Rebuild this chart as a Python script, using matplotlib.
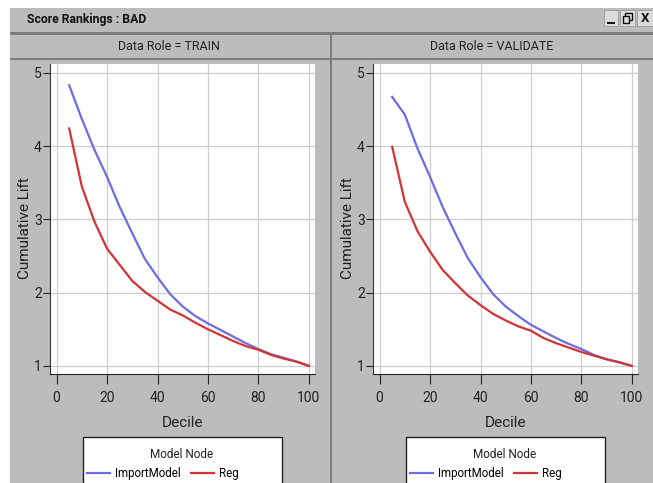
# score_rankings.py
#
# Two panel cumulative lift chart inside a grey application window.

import matplotlib
matplotlib.use('Agg')
import matplotlib.pyplot as plt
from matplotlib.patches import Rectangle

# ── DATA ───────────────────────────────────────────────────────────────────────
deciles = [5, 10, 15, 20, 25, 30, 35, 40, 45, 50, 55, 60, 65, 70, 75, 80, 85, 90, 95, 100]

train_import = [4.83, 4.37, 3.95, 3.58, 3.17, 2.81, 2.46, 2.21, 1.98, 1.81,
                1.68, 1.58, 1.49, 1.40, 1.31, 1.23, 1.16, 1.11, 1.06, 1.00]
train_reg    = [4.24, 3.45, 2.97, 2.60, 2.38, 2.16, 2.01, 1.89, 1.77, 1.69,
                1.59, 1.50, 1.42, 1.34, 1.27, 1.22, 1.15, 1.10, 1.06, 1.00]

valid_import = [4.67, 4.43, 3.97, 3.58, 3.17, 2.81, 2.47, 2.21, 1.98, 1.81,
                1.68, 1.56, 1.47, 1.38, 1.30, 1.23, 1.15, 1.09, 1.05, 1.00]
valid_reg    = [3.99, 3.24, 2.84, 2.56, 2.31, 2.13, 1.96, 1.83, 1.71, 1.62,
                1.54, 1.48, 1.38, 1.31, 1.25, 1.19, 1.14, 1.09, 1.05, 1.00]

window_title = 'Score Rankings : BAD'
panel_titles = ['Data Role = TRAIN', 'Data Role = VALIDATE']
x_ticks = [0, 20, 40, 60, 80, 100]
y_ticks = [1, 2, 3, 4, 5]

# ── STYLE ──────────────────────────────────────────────────────────────────────
W, H = 653, 483
GREY = '#bcbcbc'
DARK = '#7c7c7c'
BLUE = '#6c6ce4'
RED  = '#d23434'
TEXT = '#222222'

plt.rcParams['font.family'] = ['Roboto', 'Liberation Sans', 'DejaVu Sans']

fig = plt.figure(figsize=(W / 100, H / 100), dpi=100, facecolor='white')


def box(x0, y0, x1, y1, **kw):
    # pixel rectangle, y measured from the top of the image
    fig.add_artist(Rectangle((x0 / W, 1 - y1 / H), (x1 - x0) / W, (y1 - y0) / H,
                             transform=fig.transFigure, linewidth=kw.pop('lw', 0),
                             zorder=kw.pop('zorder', -5), **kw))


def label(x, y, s, **kw):
    fig.text(x / W, 1 - y / H, s, va='center', color=kw.pop('color', TEXT), **kw)


# ── WINDOW CHROME ──────────────────────────────────────────────────────────────
box(10, 8, W, H, facecolor=GREY)
box(10, 32, W, 34.5, facecolor=DARK)
box(10, 57.5, W, 59.5, facecolor=DARK)
box(330, 34, 332, H, facecolor=DARK)
label(27, 20, window_title, fontsize=8.8, fontweight='bold', color='#111111')

# minimise, restore and close buttons
for x0, x1 in [(604, 618), (620, 635), (637, 653)]:
    box(x0, 10, x1, 26, facecolor='#dcdcdc', edgecolor='#999999', lw=0.6)
box(607, 22, 615, 24, facecolor='#111111')
box(625, 13, 632, 20, facecolor='none', edgecolor='#111111', lw=1.0, zorder=-4)
box(623, 16, 629, 23, facecolor='#dcdcdc', edgecolor='#111111', lw=1.0, zorder=-3)
label(645, 18, 'X', fontsize=9.5, fontweight='bold', ha='center', color='#111111')

# ── PANELS ─────────────────────────────────────────────────────────────────────
panels = [
    (50, 315, panel_titles[0], train_import, train_reg),
    (373, 638, panel_titles[1], valid_import, valid_reg),
]

for left, right, title, imp, reg in panels:
    ax = fig.add_axes([left / W, 1 - 374 / H, (right - left) / W, (374 - 64) / H])
    ax.set_xlim(-2.6, 102.4)
    ax.set_ylim(0.89, 5.12)
    ax.grid(True, color='#cdcdd2', linewidth=0.9)
    ax.set_axisbelow(True)
    ax.plot(deciles, imp, color=BLUE, linewidth=1.6, label='ImportModel')
    ax.plot(deciles, reg, color=RED, linewidth=1.6, label='Reg')

    ax.set_xticks(x_ticks)
    ax.set_yticks(y_ticks)
    ax.tick_params(axis='x', length=7, width=0.8, color='#222222', labelsize=10,
                   labelcolor=TEXT, pad=5)
    ax.tick_params(axis='y', length=5, width=0.8, color='#222222', labelsize=10,
                   labelcolor=TEXT, pad=1)
    ax.spines['top'].set_visible(False)
    ax.spines['right'].set_visible(False)
    ax.spines['left'].set_color('#333333')
    ax.spines['bottom'].set_color('#222222')
    ax.set_xlabel('Decile', fontsize=11, color=TEXT, labelpad=8)
    ax.set_ylabel('Cumulative Lift', fontsize=11, color=TEXT, labelpad=1, y=0.47)

    label((left + right) / 2 - 13.5, 47, title, fontsize=9, ha='center')

    # legend frame runs off the bottom of the window
    box(left + 33, 437, left + 232, H + 10, facecolor='white', edgecolor='#222222', lw=1.0)
    label(left + 132, 454, 'Model Node', fontsize=8.5, ha='center')
    ax.legend(ncol=2, loc='center left',
              bbox_to_anchor=((left + 37) / W, 1 - 474 / H),
              bbox_transform=fig.transFigure, fontsize=8.3,
              frameon=False, borderaxespad=0, borderpad=0,
              handlelength=2.0, handletextpad=0.45, columnspacing=0.9)

fig.savefig('out.png', dpi=100)
